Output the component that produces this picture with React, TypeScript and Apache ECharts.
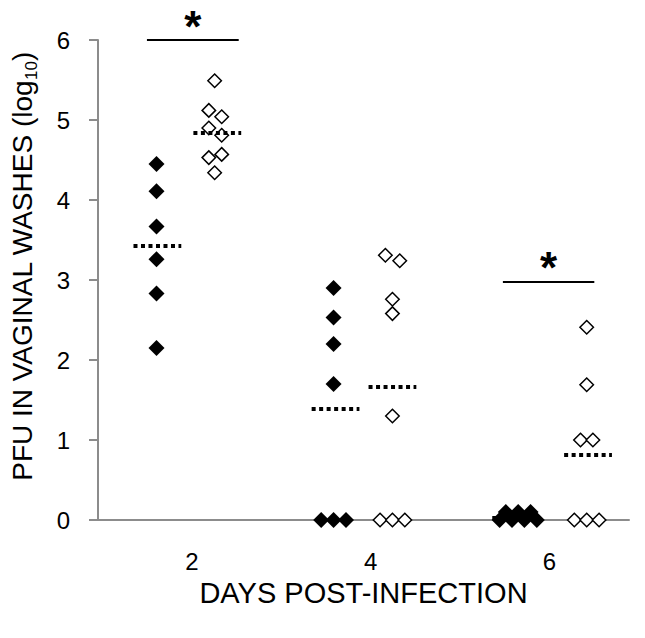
import React, { useEffect, useRef } from "react";
import * as echarts from "echarts";

const FONT = "'Liberation Sans', Arial, sans-serif";

// x-axis day labels and where they sit on the x scale (0..6)
const dayLabels = ["2", "4", "6"];
const dayLabelPos = [1.06, 3.08, 5.1];

// y ticks
const yMin = 0;
const yMax = 6;
const yStep = 1;

// group centres on the x scale and jitter step
const jitterStep = 0.14;

// Day 2
const d2FilledX = 0.661;
const d2FilledVals = [4.45, 4.11, 3.67, 3.26, 2.83, 2.15];
const d2FilledJit = [0, 0, 0, 0, 0, 0];
const d2OpenX = 1.325;
const d2OpenVals = [5.49, 5.12, 5.04, 4.9, 4.81, 4.57, 4.53, 4.34];
const d2OpenJit = [-0.05, -0.52, 0.52, -0.52, 0.52, 0.52, -0.52, -0.05];

// Day 4
const d4FilledX = 2.662;
const d4FilledVals = [2.9, 2.53, 2.2, 1.7, 0, 0, 0];
const d4FilledJit = [0, 0, 0, 0, -1, 0, 1];
const d4OpenX = 3.327;
const d4OpenVals = [3.31, 3.24, 2.76, 2.58, 1.3, 0, 0, 0];
const d4OpenJit = [-0.57, 0.59, 0, 0, 0, -1, 0, 1];

// Day 6
const d6FilledX = 4.748;
const d6FilledVals = [0.1, 0.1, 0.1, 0, 0, 0, 0];
const d6FilledJit = [-1, 0, 1, -1.5, -0.5, 0.5, 1.5];
const d6OpenX = 5.522;
const d6OpenVals = [2.41, 1.69, 1.0, 1.0, 0, 0, 0];
const d6OpenJit = [0, 0, -0.5, 0.5, -1, 0, 1];

// group means (dotted bars)
const meanCenters = [0.671, 1.348, 2.684, 3.327, 4.725, 5.537];
const meanValues = [3.43, 4.84, 1.39, 1.66, 0.03, 0.81];
const meanHalf = 0.27;

// significance bars
const sigFrom = [0.553, 4.575];
const sigTo = [1.59, 5.608];
const sigY = [6.0, 2.98];

function pts(cx: number, vals: number[], jit: number[]) {
  return vals.map((v, i) => [cx + jit[i] * jitterStep, v]);
}

export default function App() {
  const ref = useRef<HTMLDivElement>(null);
  useEffect(() => {
    if (!ref.current) return;
    const chart = echarts.init(ref.current, undefined, { renderer: "svg" });

    const filled = [
      ...pts(d2FilledX, d2FilledVals, d2FilledJit),
      ...pts(d4FilledX, d4FilledVals, d4FilledJit),
      ...pts(d6FilledX, d6FilledVals, d6FilledJit),
    ];
    const open = [
      ...pts(d2OpenX, d2OpenVals, d2OpenJit),
      ...pts(d4OpenX, d4OpenVals, d4OpenJit),
      ...pts(d6OpenX, d6OpenVals, d6OpenJit),
    ];

    const meanLines = meanCenters.map((c, i) => [
      { coord: [c - meanHalf, meanValues[i]] },
      { coord: [c + meanHalf, meanValues[i]] },
    ]);
    const sigLines = sigFrom.map((f, i) => [
      { coord: [f, sigY[i]] },
      { coord: [sigTo[i], sigY[i]] },
    ]);

    const option: any = {
      animation: false,
      grid: { left: 97, right: 16, top: 40, bottom: 118 },
      xAxis: {
        type: "value",
        min: 0,
        max: 6,
        axisLine: { show: true, lineStyle: { color: "#8c8c8c", width: 2 } },
        axisTick: { show: false },
        splitLine: { show: false },
        axisLabel: {
          customValues: dayLabelPos,
          formatter: (v: number) => {
            let best = 0;
            dayLabelPos.forEach((p, i) => {
              if (Math.abs(p - v) < Math.abs(dayLabelPos[best] - v)) best = i;
            });
            return dayLabels[best];
          },
          fontSize: 24,
          color: "#000",
          fontFamily: FONT,
          margin: 29,
        },
        name: "DAYS POST-INFECTION",
        nameLocation: "middle",
        nameGap: 58,
        nameTextStyle: { fontSize: 29, color: "#000", fontFamily: FONT },
      },
      yAxis: {
        type: "value",
        min: yMin,
        max: yMax,
        interval: yStep,
        axisLine: { show: true, lineStyle: { color: "#8c8c8c", width: 2 } },
        axisTick: { show: true, length: 9, lineStyle: { color: "#8c8c8c", width: 2 } },
        splitLine: { show: false },
        axisLabel: { fontSize: 24, color: "#000", fontFamily: FONT, margin: 28 },
        name: "{a|PFU IN VAGINAL WASHES (log}{b|10}{a|)}",
        nameLocation: "middle",
        nameGap: 62,
        nameRotate: 90,
        nameTextStyle: {
          color: "#000",
          fontFamily: FONT,
          padding: [0, 0, 0, 27],
          rich: {
            a: { fontSize: 28, fontFamily: FONT, color: "#000", lineHeight: 32, verticalAlign: "bottom" },
            b: { fontSize: 17, fontFamily: FONT, color: "#000", lineHeight: 32, verticalAlign: "bottom", padding: [0, 0, -4, 0] },
          },
        },
      },
      series: [
        {
          type: "scatter",
          name: "means",
          data: [],
          silent: true,
          markLine: {
            silent: true,
            symbol: "none",
            animation: false,
            label: { show: false },
            lineStyle: { color: "#000", width: 4, type: [4, 3.5], opacity: 1 },
            data: meanLines,
          },
        },
        {
          type: "scatter",
          name: "filled",
          clip: false,
          symbol: "diamond",
          symbolSize: 16,
          itemStyle: { color: "#000", opacity: 1 },
          data: filled,
          z: 3,
        },
        {
          type: "scatter",
          name: "open",
          clip: false,
          symbol: "diamond",
          symbolSize: 13.5,
          itemStyle: { color: "#fff", borderColor: "#000", borderWidth: 1.5, opacity: 1 },
          data: open,
          z: 3,
        },
        {
          type: "scatter",
          name: "sig",
          data: [],
          silent: true,
          markLine: {
            silent: true,
            symbol: "none",
            animation: false,
            lineStyle: { color: "#000", width: 2, type: "solid", opacity: 1 },
            label: {
              show: true,
              position: "middle",
              formatter: "*",
              fontSize: 44,
              fontWeight: "bold",
              color: "#000",
              fontFamily: FONT,
              distance: -8,
            },
            data: sigLines,
          },
        },
      ],
    };
    chart.setOption(option);
    return () => chart.dispose();
  }, []);

  return <div ref={ref} style={{ width: 645, height: 638, margin: -8 }} />;
}
